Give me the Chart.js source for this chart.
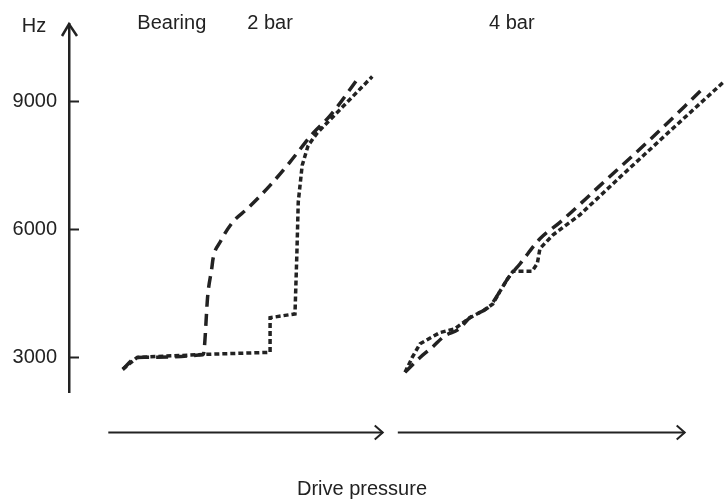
<!DOCTYPE html>
<html>
<head>
<meta charset="utf-8">
<script src="https://cdn.jsdelivr.net/npm/chart.js@4/dist/chart.umd.min.js"></script>
<style>
  html, body { margin: 0; padding: 0; background: #fff; }
  #wrap { width: 724px; height: 499px; }
</style>
</head>
<body>
<div id="wrap"><canvas id="freq-chart"></canvas></div>
<script>
/*
Resonance frequency against drive pressure, two bearing pressures
*/

// y ticks (Hz)
const hzTicks = [3000, 6000, 9000];

// 2 bar, long dashes
const twoBarDashX = [8.2, 10.4, 20.5, 21.2, 21.8, 22.0, 23.1, 25.0, 27.2, 30.7, 33.7, 37.3, 39.8, 44.1];
const twoBarDashHz = [2720, 3000, 3070, 4480, 5090, 5320, 5710, 6170, 6480, 7030, 7570, 8260, 8650, 9530];

// 2 bar, short dashes
const twoBarDotX = [8.2, 10.4, 20.5, 30.7, 30.7, 34.5, 34.8, 35.0, 35.6, 36.5, 37.9, 46.3];
const twoBarDotHz = [2720, 3000, 3070, 3120, 3930, 4020, 5480, 6640, 7500, 7960, 8260, 9580];

// 4 bar, long dashes
const fourBarDashX = [51.3, 53.6, 55.4, 57.4, 59.4, 61.2, 64.3, 65.8, 67.0, 68.9, 71.9, 75.0, 81.1, 88.7, 96.8];
const fourBarDashHz = [2650, 3000, 3230, 3510, 3650, 3930, 4210, 4550, 4850, 5200, 5780, 6170, 7030, 8100, 9300];

// 4 bar, short dashes
const fourBarDotX = [51.3, 52.4, 53.6, 56.6, 58.9, 61.2, 63.2, 64.7, 65.8, 67.0, 67.8, 70.7, 71.5, 71.9, 73.9, 78.0, 84.1, 91.8, 100];
const fourBarDotHz = [2650, 3000, 3320, 3580, 3670, 3930, 4090, 4250, 4550, 4850, 5020, 5020, 5200, 5550, 5870, 6340, 7220, 8310, 9460];

// header labels and drive pressure arrows (x units)
const groupLabels = ['Bearing', '2 bar', '4 bar'];
const groupLabelX = [15.7, 30.7, 67.6];
const arrowStart = [6.0, 50.2];
const arrowEnd = [47.9, 94.0];

const ink = '#222';
const fontFamily = '"Liberation Sans", Arial, sans-serif';
const LONG_DASH = [12, 7];
const SHORT_DASH = [5, 3];

function toPoints(xs, ys) {
    return xs.map((x, i) => ({ x: x, y: ys[i] }));
}

function lineSet(label, xs, ys, dash, smooth) {
    return {
        label: label,
        data: toPoints(xs, ys),
        borderColor: ink,
        borderWidth: 3.5,
        borderDash: dash,
        borderCapStyle: 'butt',
        pointRadius: 0,
        tension: smooth ? 0.4 : 0,
        cubicInterpolationMode: smooth ? 'monotone' : 'default',
        fill: false,
        clip: false,
    };
}

/*
Axis decorations: arrowheads, inward ticks, header text
*/
const sketchAxes = {
    id: 'sketchAxes',
    afterDraw(chart) {
        const { ctx, chartArea, scales } = chart;
        const x = scales.x;
        const y = scales.y;
        const ax = chartArea.left;
        ctx.save();
        ctx.strokeStyle = ink;
        ctx.lineWidth = 2.5;
        ctx.setLineDash([]);

        // arrowhead on the Hz axis
        ctx.beginPath();
        ctx.moveTo(ax - 7, chartArea.top + 12);
        ctx.lineTo(ax, chartArea.top);
        ctx.lineTo(ax + 8, chartArea.top + 12);
        ctx.stroke();

        // tick marks pointing into the plot
        ctx.lineWidth = 2;
        hzTicks.forEach(v => {
            const py = Math.round(y.getPixelForValue(v)) + 0.5;
            ctx.beginPath();
            ctx.moveTo(ax, py);
            ctx.lineTo(ax + 10, py);
            ctx.stroke();
        });

        // drive pressure arrows
        const ay = chartArea.bottom + 40.5;
        arrowStart.forEach((s, i) => {
            const x1 = x.getPixelForValue(s);
            const x2 = x.getPixelForValue(arrowEnd[i]);
            ctx.beginPath();
            ctx.moveTo(x1, ay);
            ctx.lineTo(x2, ay);
            ctx.stroke();
            ctx.beginPath();
            ctx.moveTo(x2 - 8, ay - 7);
            ctx.lineTo(x2, ay);
            ctx.lineTo(x2 - 8, ay + 7);
            ctx.stroke();
        });

        // header text
        ctx.fillStyle = ink;
        ctx.font = '20px ' + fontFamily;
        ctx.textAlign = 'center';
        ctx.textBaseline = 'middle';
        ctx.fillText('Hz', ax - 35, 26);
        groupLabels.forEach((t, i) => {
            ctx.fillText(t, x.getPixelForValue(groupLabelX[i]), 23);
        });
        ctx.restore();
    }
};

const ctx = document.getElementById('freq-chart').getContext('2d');
const chart = new Chart(ctx, {
    type: 'line',
    data: {
        datasets: [
            lineSet('2 bar dash', twoBarDashX, twoBarDashHz, LONG_DASH, true),
            lineSet('2 bar dot', twoBarDotX, twoBarDotHz, SHORT_DASH, false),
            lineSet('4 bar dash', fourBarDashX, fourBarDashHz, LONG_DASH, true),
            lineSet('4 bar dot', fourBarDotX, fourBarDotHz, SHORT_DASH, false),
        ]
    },
    options: {
        responsive: true,
        maintainAspectRatio: false,
        animation: false,
        events: [],
        layout: {
            padding: { top: 20, left: 0, right: 0, bottom: 0 }
        },
        plugins: {
            legend: { display: false },
            tooltip: { enabled: false },
            title: {
                display: true,
                position: 'bottom',
                text: 'Drive pressure',
                color: ink,
                font: { family: fontFamily, size: 20, weight: 'normal', lineHeight: 1 },
                padding: { top: 87, bottom: 0 }
            }
        },
        scales: {
            x: {
                type: 'linear',
                min: 0,
                max: 100,
                display: false
            },
            y: {
                type: 'linear',
                min: 2190,
                max: 10810,
                afterBuildTicks: (scale) => {
                    scale.ticks = hzTicks.map(v => ({ value: v }));
                },
                afterFit: (scale) => {
                    scale.width = 69;
                },
                grid: { display: false, drawTicks: false },
                border: { display: true, color: ink, width: 2.5 },
                ticks: {
                    color: ink,
                    padding: 12,
                    font: { family: fontFamily, size: 20 },
                    callback: (v) => String(v)
                }
            }
        }
    },
    plugins: [sketchAxes]
});
</script>
</body>
</html>
